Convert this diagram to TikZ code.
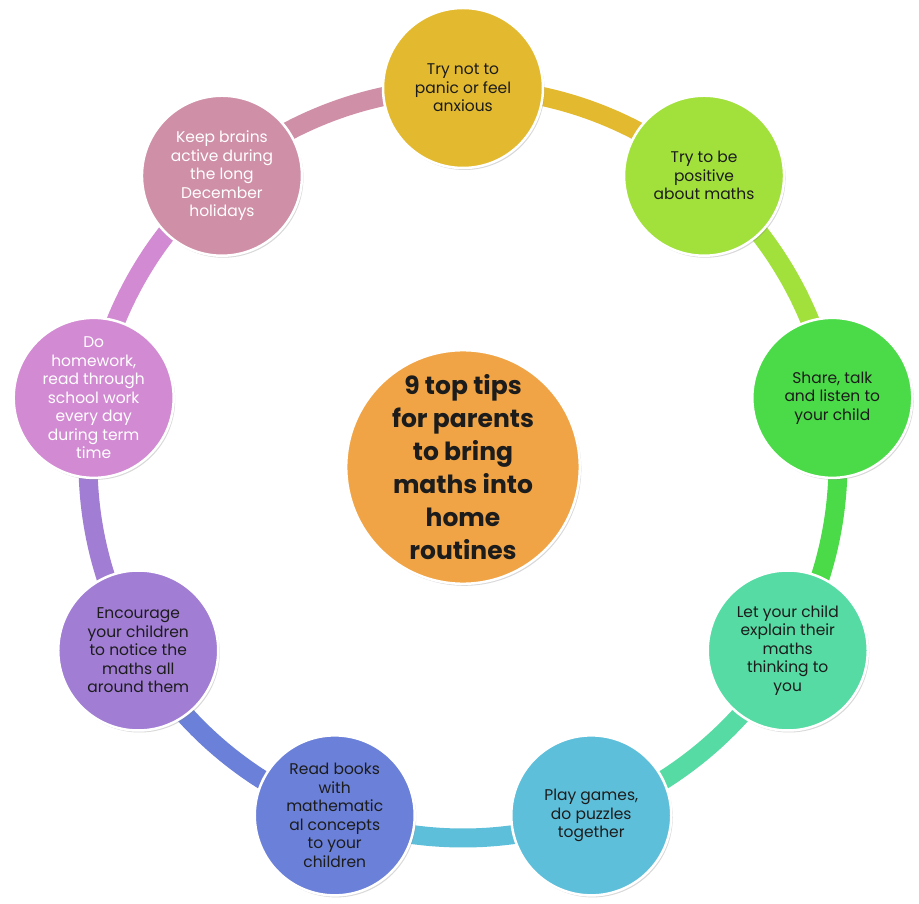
\documentclass[tikz,border=0pt]{standalone}
\usepackage{fontspec}
\setmainfont{Poppins}
\usetikzlibrary{shadows}

\definecolor{cGold}{HTML}{E3BA2F}
\definecolor{cLime}{HTML}{A2E03C}
\definecolor{cGreen}{HTML}{4BDB48}
\definecolor{cMint}{HTML}{55DBA3}
\definecolor{cCyan}{HTML}{5EBFDA}
\definecolor{cBlue}{HTML}{6B80D8}
\definecolor{cPurple}{HTML}{A17DD4}
\definecolor{cLilac}{HTML}{D28AD2}
\definecolor{cMauve}{HTML}{CF8FA6}
\definecolor{cOrange}{HTML}{F0A446}
\definecolor{tipText}{HTML}{1C1C1C}

\pgfdeclarelayer{ringlayer}
\pgfsetlayers{ringlayer,main}

\begin{document}
\begin{tikzpicture}[x=1pt,y=1pt,
  tip/.style={circle, draw=white, line width=2.5pt, minimum size=160pt,
    inner sep=0pt, align=center, text=tipText,
    font=\fontsize{15.5}{18.5}\selectfont,
    drop shadow={shadow xshift=1.5pt, shadow yshift=-2pt, opacity=.3}},
  hubnode/.style={tip, minimum size=232pt,
    font=\fontsize{25}{33}\selectfont\bfseries},
  ring/.style={line width=19pt}]

\useasboundingbox (0,0) rectangle (919,903);

\coordinate (hub) at (463,440);

% centre circle
\node[hubnode, fill=cOrange] (title) at (463,436)
  {9 top tips\\for parents\\to bring\\maths into\\home\\routines};

% the nine tips, clockwise from the top
\node[tip, fill=cGold]   (t1) at ([shift={(90:375)}]hub)   {Try not to\\panic or feel\\anxious};
\node[tip, fill=cLime]   (t2) at ([shift={(50:375)}]hub)   {Try to be\\positive\\about maths};
\node[tip, fill=cGreen]  (t3) at ([shift={(10:375)}]hub)   {Share, talk\\and listen to\\your child};
\node[tip, fill=cMint]   (t4) at ([shift={(-30:375)}]hub)  {Let your child\\explain their\\maths\\thinking to\\you};
\node[tip, fill=cCyan]   (t5) at ([shift={(-70:375)}]hub)  {Play games,\\do puzzles\\together};
\node[tip, fill=cBlue]   (t6) at ([shift={(-110:375)}]hub) {Read books\\with\\mathematic\\al concepts\\to your\\children};
\node[tip, fill=cPurple] (t7) at ([shift={(-150:375)}]hub) {Encourage\\your children\\to notice the\\maths all\\around them};
\node[tip, fill=cLilac, text=white] (t8) at ([shift={(170:375)}]hub)
  {Do\\homework,\\read through\\school work\\every day\\during term\\time};
\node[tip, fill=cMauve, text=white] (t9) at ([shift={(130:375)}]hub)
  {Keep brains\\active during\\the long\\December\\holidays};

% white page and ring segments behind the circles,
% each segment in the colour of the tip it leaves
\begin{pgfonlayer}{ringlayer}
\fill[white] (0,0) rectangle (919,903);
\foreach \a/\b/\c in {t1/90/cGold, t2/50/cLime, t3/10/cGreen, t4/-30/cMint,
    t5/-70/cCyan, t6/-110/cBlue, t7/-150/cPurple, t8/170/cLilac, t9/130/cMauve}
  \draw[ring, draw=\c] (\a.center) arc[start angle=\b, end angle=\b-40, radius=375pt];
\end{pgfonlayer}
\end{tikzpicture}
\end{document}
